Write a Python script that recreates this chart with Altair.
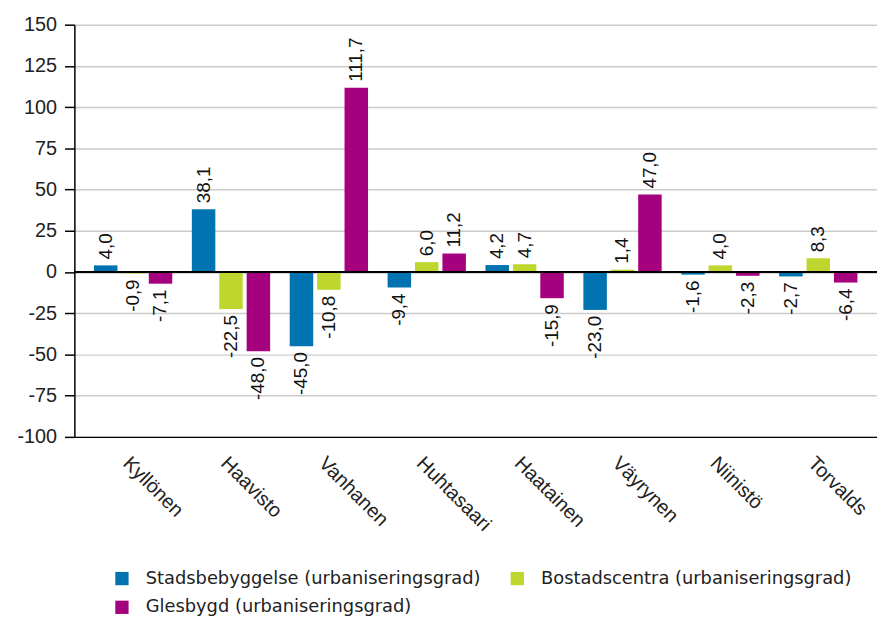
import altair as alt
import pandas as pd

candidates = ["Kyllönen", "Haavisto", "Vanhanen", "Huhtasaari", "Haatainen", "Väyrynen", "Niinistö", "Torvalds"]
series = ["Stadsbebyggelse (urbaniseringsgrad)", "Bostadscentra (urbaniseringsgrad)", "Glesbygd (urbaniseringsgrad)"]
stads = [4.0, 38.1, -45.0, -9.4, 4.2, -23.0, -1.6, -2.7]
bostad = [-0.9, -22.5, -10.8, 6.0, 4.7, 1.4, 4.0, 8.3]
gles = [-7.1, -48.0, 111.7, 11.2, -15.9, 47.0, -2.3, -6.4]
colors = ["#0073b0", "#bfd62f", "#a5007e"]
y_ticks = [150, 125, 100, 75, 50, 25, 0, -25, -50, -75, -100]

rows = []
for s, vals in zip(series, [stads, bostad, gles]):
    for c, v in zip(candidates, vals):
        rows.append({"candidate": c, "series": s, "value": v})
df = pd.DataFrame(rows)

FONT = "Liberation Sans"

x_enc = alt.X("candidate:N", sort=candidates,
              scale=alt.Scale(paddingInner=0.2, paddingOuter=0.2),
              axis=alt.Axis(title=None, labelAngle=45, labelAlign="left", labelBaseline="top",
                            labelPadding=16, ticks=False, domainColor="#000000", domainWidth=1.5,
                            labelFont=FONT, labelFontSize=20, labelColor="#222222", grid=False))
xo_enc = alt.XOffset("series:N", sort=series, scale=alt.Scale(paddingInner=0.143))
y_scale = alt.Scale(domain=[-100, 150], nice=False, zero=False)
y_enc = alt.Y("value:Q", scale=y_scale,
              axis=alt.Axis(title=None, values=y_ticks, tickSize=10, tickColor="#000000",
                            tickWidth=1.5, domainColor="#000000", domainWidth=1.5,
                            gridColor="#cccccc", gridWidth=1.5, labelPadding=8,
                            labelFont=FONT, labelFontSize=20, labelColor="#222222",
                            labelExpr="datum.value < 0 ? '-' + abs(datum.value) : '' + datum.value"))

base = alt.Chart(df).transform_calculate(
    label="(datum.value < 0 ? '-' : '') + replace(format(abs(datum.value), '.1f'), '.', ',')"
)

bars = base.mark_bar().encode(
    x=x_enc, xOffset=xo_enc, y=y_enc,
    color=alt.Color("series:N", sort=series, scale=alt.Scale(domain=series, range=colors),
                    legend=alt.Legend(title=None, orient="none", legendX=39, legendY=550,
                                      columns=2, direction="horizontal",
                                      symbolType="square", symbolSize=180,
                                      symbolStrokeWidth=0, labelFont="DejaVu Sans",
                                      labelFontSize=18, labelColor="#222222", labelOffset=15,
                                      columnPadding=27, rowPadding=11, padding=0,
                                      labelLimit=500))
)

pos_text = base.transform_filter("datum.value >= 0").mark_text(
    angle=270, align="left", baseline="middle", dx=6, font=FONT, fontSize=19, color="#111111"
).encode(x=x_enc, xOffset=xo_enc, y=y_enc, text="label:N")

neg_text = base.transform_filter("datum.value < 0").mark_text(
    angle=270, align="right", baseline="middle", dx=-6, font=FONT, fontSize=19, color="#111111"
).encode(x=x_enc, xOffset=xo_enc, y=y_enc, text="label:N")

zero = alt.Chart(df).mark_rule(color="#000000", strokeWidth=1.5).encode(y=alt.datum(0))

chart = alt.layer(bars, pos_text, neg_text, zero).properties(
    width=810, height=416,
    autosize=alt.AutoSizeParams(type="none"),
    padding={"left": 67, "top": 14, "right": 0, "bottom": 183},
).configure_view(stroke=None)

chart.save("out.html", embed_options={"renderer": "svg", "actions": False})
